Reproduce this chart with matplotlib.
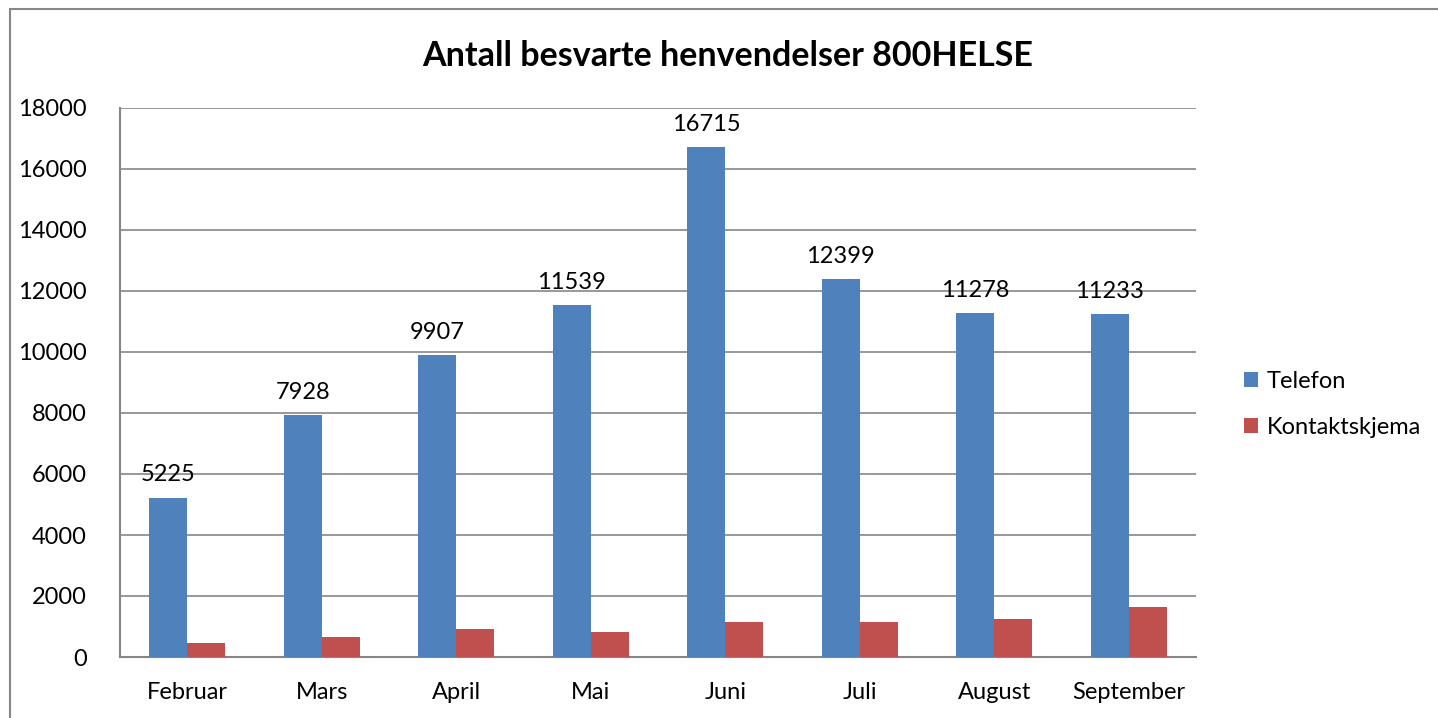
import numpy as np
import matplotlib.pyplot as plt
from matplotlib.patches import Rectangle

months = ['Februar', 'Mars', 'April', 'Mai', 'Juni', 'Juli', 'August', 'September']
telefon = [5225, 7928, 9907, 11539, 16715, 12399, 11278, 11233]
kontaktskjema = [460, 660, 910, 810, 1140, 1150, 1250, 1640]

blue = '#4f81bd'
red = '#c0504d'
grey = '#868686'

plt.rcParams['font.family'] = ['Lato', 'DejaVu Sans']

fig = plt.figure(figsize=(14.38, 7.18), dpi=100)
ax = fig.add_axes([120 / 1438, 1 - 657 / 718, 1076 / 1438, 549 / 718])

x = np.arange(len(months))
w = 0.283
b1 = ax.bar(x - w / 2, telefon, w, color=blue, label='Telefon', zorder=3)
b2 = ax.bar(x + w / 2, kontaktskjema, w, color=red, label='Kontaktskjema', zorder=3)

for rect, v in zip(b1, telefon):
    ax.text(rect.get_x() + rect.get_width() / 2, v + 400, str(v),
            ha='center', va='bottom', fontsize=17)

ax.set_xlim(-0.5, len(months) - 0.5)
ax.set_ylim(0, 18000)
ax.set_yticks(range(0, 18001, 2000))
ax.set_xticks(x)
ax.set_xticklabels(months, fontsize=17)
ax.tick_params(axis='y', labelsize=17, length=0, pad=24)
ax.tick_params(axis='x', length=0, pad=18)
ax.grid(axis='y', color=grey, linewidth=1.2, zorder=0)
for s in ['top', 'right']:
    ax.spines[s].set_visible(False)
for s in ['left', 'bottom']:
    ax.spines[s].set_color(grey)
    ax.spines[s].set_linewidth(1.5)

fig.text(728 / 1438, 1 - 56 / 718, 'Antall besvarte henvendelser 800HELSE',
         ha='center', va='center', fontsize=24.5, fontweight='bold')

ax.legend(loc='center left', bbox_to_anchor=(1.025, 0.46), frameon=False,
          fontsize=17, handlelength=0.6, handleheight=0.6, handletextpad=0.35,
          labelspacing=1.05)

fig.patches.append(Rectangle((10 / 1438, -0.1), 1.2, 1 - 9 / 718 + 0.1,
                             transform=fig.transFigure, fill=False,
                             edgecolor=grey, linewidth=1.5))

fig.savefig('out.png', dpi=100)
